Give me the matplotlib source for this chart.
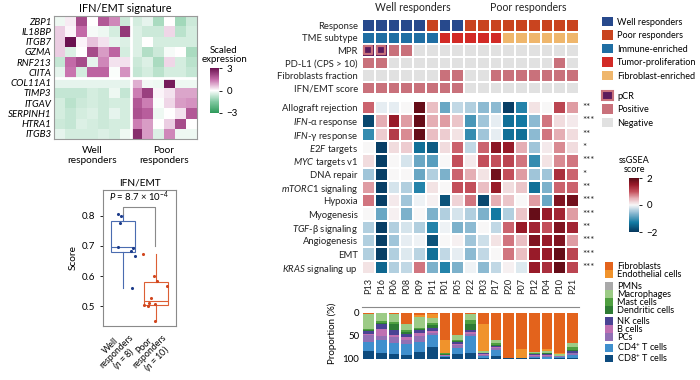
import numpy as np
import matplotlib
matplotlib.use('Agg')
import matplotlib.pyplot as plt
from matplotlib.colors import LinearSegmentedColormap, ListedColormap, BoundaryNorm
from matplotlib.patches import Patch

plt.rcParams['font.family'] = ['Lato', 'DejaVu Sans']
plt.rcParams['mathtext.fontset'] = 'custom'
plt.rcParams['mathtext.rm'] = 'Lato'
plt.rcParams['mathtext.it'] = 'Lato:italic'
plt.rcParams['axes.linewidth'] = 0.8

# ---------------- data ----------------
genes = ['ZBP1', 'IL18BP', 'ITGB7', 'GZMA', 'RNF213', 'CIITA',
         'COL11A1', 'TIMP3', 'ITGAV', 'SERPINH1', 'HTRA1', 'ITGB3']
expr_well = [
    [-0.2, 0.2, 2.0, 0.0, 1.8, 1.2, -0.6],
    [0.5, 0.1, 1.5, -0.1, -0.2, -0.5, 2.3],
    [0.5, 3.0, 0.1, 0.6, 0.3, -0.3, -0.4],
    [0.5, -0.4, 0.0, 2.0, 1.0, 1.6, -0.5],
    [-0.7, 1.5, 2.0, -0.3, 1.2, 0.3, 0.3],
    [-0.3, 1.4, -0.5, 1.6, 1.6, -0.05, 1.1],
    [-0.3, -0.3, -0.3, -0.3, -0.3, -0.3, -0.3],
    [-0.7, -0.7, -0.7, -0.5, -0.6, -0.2, -0.7],
    [-0.5, -0.8, -0.6, -0.5, -0.6, -0.5, -0.5],
    [-0.5, -0.7, -0.5, -0.4, -0.6, -0.3, -0.5],
    [-0.6, -0.7, -0.4, -0.5, -0.6, -0.5, -0.5],
    [-0.3, -0.5, -0.5, -0.5, -0.4, -0.5, -0.2],
]
expr_poor = [
    [-0.5, -0.3, -1.0, 0.0, -1.1, -0.6],
    [-0.4, -0.6, -0.6, 0.4, -0.8, -0.5],
    [-0.4, 0.0, -0.5, -0.5, -0.5, -0.5],
    [-0.4, -0.9, -0.6, -0.1, 0.0, -1.0],
    [-0.6, -0.4, -1.0, 0.4, -0.5, -0.8],
    [-0.7, -0.5, -0.8, -0.5, -0.5, -0.7],
    [0.8, -0.15, -0.2, 2.8, -0.2, -0.2],
    [1.3, 2.2, 0.1, 0.3, 0.9, 0.9],
    [1.8, 1.3, -0.05, 0.4, 1.0, 1.1],
    [1.9, 1.7, -0.2, 0.0, 0.3, 1.8],
    [1.3, 1.0, 0.0, 0.5, 2.0, 0.0],
    [2.5, 1.0, -0.4, 1.2, -0.2, -0.2],
]

score_well = [0.805, 0.80, 0.775, 0.697, 0.693, 0.683, 0.665, 0.56]
score_poor = [0.672, 0.60, 0.585, 0.567, 0.527, 0.51, 0.507, 0.505, 0.50, 0.45]
jitter_well = [-0.13, -0.06, -0.08, -0.13, 0.32, 0.25, 0.37, 0.29]
jitter_poor = [-0.38, -0.06, 0.02, 0.32, -0.16, -0.2, -0.03, -0.36, -0.25, -0.03]

patients = ['P13', 'P16', 'P06', 'P08', 'P09', 'P11', 'P01', 'P05', 'P22',
            'P03', 'P17', 'P20', 'P07', 'P12', 'P04', 'P10', 'P21']

ann_labels = ['Response', 'TME subtype', 'MPR', 'PD-L1 (CPS > 10)',
              'Fibroblasts fraction', 'IFN/EMT score']
response = ['Well'] * 5 + ['Poor'] + ['Well'] * 2 + ['Poor'] * 9
tme = ['Immune'] * 6 + ['Tumor'] * 5 + ['Fibro'] * 6
mpr = ['pCR', 'pCR', 'Positive', 'Positive'] + ['Negative'] * 13
pdl1 = ['Positive'] * 2 + ['Negative'] * 13 + ['Positive', 'Negative']
fib_frac = ['Negative'] * 6 + ['Positive'] * 2 + ['Negative'] * 2 + ['Positive'] * 7
ifn_emt = ['Positive'] * 8 + ['Negative'] * 9

hallmarks = ['Allograft rejection', r'$\it{IFN}$-α response', r'$\it{IFN}$-γ response',
             r'$\it{E2F}$ targets', r'$\it{MYC}$ targets v1', 'DNA repair',
             r'$\it{mTORC1}$ signaling', 'Hypoxia', 'Myogenesis',
             r'$\it{TGF}$-β signaling', 'Angiogenesis', 'EMT', r'$\it{KRAS}$ signaling up']
stars = ['**', '***', '**', '*', '***', '*', '**', '***', '***', '**', '***', '***', '***']
ssgsea = [
    [0.9, -0.1, -0.1, 0.0, 1.9, 0.4, -0.8, -0.3, -0.4, -0.6, -0.6, -1.9, -1.2, 0.15, 0.0, 1.1, 0.6],
    [-1.8, 0.5, 1.5, 0.6, 1.9, 0.5, 0.6, 0.35, -1.0, -0.5, -0.1, -1.4, -1.3, -0.6, 0.8, 0.2, 0.1],
    [-1.1, 0.3, 1.2, 0.7, 1.9, 0.4, 0.3, 0.15, -1.1, -0.5, -0.1, -1.4, -1.4, -0.6, 0.8, 0.5, 0.2],
    [0.0, -1.9, 0.2, 0.3, -1.4, -1.6, 0.2, 0.9, -0.3, 0.9, 1.6, 1.5, 0.5, -0.5, 0.1, 0.7, 0.2],
    [0.2, -1.9, 0.0, -0.2, -0.8, -0.9, 0.0, 1.0, 0.1, 1.0, 1.0, 1.1, 0.8, -1.1, 0.15, 0.7, 0.8],
    [-0.5, -1.9, 0.0, 0.0, -0.8, -0.4, -0.7, 0.9, 0.5, 0.15, 1.8, 1.0, 0.6, -0.5, -0.5, 1.3, 0.9],
    [0.6, -1.9, -0.2, -0.4, -1.2, 0.15, 0.0, 1.0, 1.0, 0.4, 1.5, 0.2, 0.35, -1.4, -0.7, 0.9, 0.9],
    [0.8, -1.9, 0.1, -0.5, -0.05, 0.05, -1.7, 0.25, 0.8, -1.8, 0.5, 0.35, 0.0, 0.6, -0.8, 1.7, 1.8],
    [0.0, -0.8, 0.05, -0.7, 0.0, -0.7, -0.4, -0.2, -0.4, -0.7, -1.3, -0.4, 0.35, 1.9, 1.5, 1.4, 0.6],
    [-0.4, -1.9, -0.4, -0.2, -0.4, -1.2, -0.05, -0.7, -0.6, 0.0, -0.3, 0.9, 1.5, 1.4, 1.0, 1.7, 1.4],
    [-0.4, -1.9, -0.5, -0.1, -0.05, -1.7, 0.0, 0.05, -0.5, -0.25, 0.15, 0.8, 0.4, 1.7, 1.5, 1.7, 0.6],
    [-0.4, -1.9, -0.4, -0.15, -0.35, -1.4, -0.3, -0.1, -0.6, -0.3, 0.0, 0.8, 0.4, 1.5, 1.5, 1.9, 1.1],
    [0.15, -1.5, -0.4, -0.3, 0.8, -0.7, -1.2, -0.7, -0.05, -0.6, -0.3, 0.05, -0.15, 1.5, 1.3, 1.9, 1.1],
]

cell_types = ['Fibroblasts', 'Endothelial cells', 'PMNs', 'Macrophages', 'Mast cells',
              'Dendritic cells', 'NK cells', 'B cells', 'PCs',
              'CD4$^{+}$ T cells', 'CD8$^{+}$ T cells']
fibroblasts = [2, 0, 3, 25, 4, 3, 58, 48, 2, 25, 58, 97, 78, 84, 78, 86, 65]
endothelial = [0, 0, 0, 0, 5, 8, 28, 0, 0, 58, 0, 1, 20, 0, 5, 4, 0]
pmns = [0] * 17
macrophages = [32, 18, 17, 11, 24, 11, 2, 10, 13, 3, 7, 0, 0, 3, 3, 3, 10]
mast = [2, 3, 5, 5, 2, 5, 2, 3, 10, 1, 4, 0, 0, 2, 2, 1, 5]
dendritic = [3, 4, 13, 5, 3, 6, 1, 3, 11, 1, 3, 0, 0, 1, 2, 0, 3]
nk = [6, 10, 9, 7, 6, 7, 1, 3, 6, 2, 3, 0, 0, 1, 2, 0, 3]
bcells = [3, 15, 5, 5, 7, 3, 1, 3, 3, 1, 2, 0, 0, 2, 2, 0, 1]
pcs = [14, 8, 13, 10, 11, 4, 1, 6, 5, 2, 4, 0, 0, 2, 2, 1, 4]
cd4 = [21, 29, 25, 24, 22, 26, 2, 14, 37, 4, 12, 0, 0, 3, 3, 3, 6]
cd8 = [17, 13, 10, 8, 16, 27, 4, 10, 13, 3, 7, 2, 2, 2, 1, 2, 3]
proportions = [fibroblasts, endothelial, pmns, macrophages, mast, dendritic,
               nk, bcells, pcs, cd4, cd8]
cell_colors = ['#e3631c', '#f0932c', '#a9a9a9', '#9ccb86', '#4f9f40', '#2e7b34',
               '#4a4394', '#bf70b2', '#9170b4', '#3f8fcd', '#0d4b7e']

# ---------------- styles ----------------
cmap_expr = LinearSegmentedColormap.from_list(
    'expr', [(0, '#2e9a5a'), (0.25, '#80c9a1'), (0.5, '#ffffff'),
             (0.75, '#c46aa8'), (1, '#6b1150')])
cmap_gsea = LinearSegmentedColormap.from_list(
    'gsea', [(0, '#06365c'), (0.175, '#137aa3'), (0.35, '#8dbad2'), (0.5, '#f8f8f8'),
             (0.625, '#e6b0b6'), (0.75, '#c4505c'), (0.875, '#9a1b2a'), (1, '#5a0a14')])
ann_keys = ['Well', 'Poor', 'Immune', 'Tumor', 'Fibro', 'pCR', 'Positive', 'Negative']
ann_cols = ['#27498c', '#c9441f', '#1f6ea3', '#d22a26', '#efb66c', '#5d1b5c', '#c9717b', '#e1e1e1']
ann_names = ['Well responders', 'Poor responders', 'Immune-enriched', 'Tumor-proliferation',
             'Fibroblast-enriched', 'pCR', 'Positive', 'Negative']
TXT = '#222222'
FS = 6.8

W, H = 700, 380
fig = plt.figure(figsize=(7, 3.8), dpi=100)


def px_axes(l, t, w, h):
    return fig.add_axes([l / W, 1 - (t + h) / H, w / W, h / H])


# ---------------- left heatmap ----------------
ax = px_axes(54, 16, 143, 123)
expr = np.hstack([np.array(expr_well), np.array(expr_poor)])
ax.pcolormesh(expr, cmap=cmap_expr, vmin=-3, vmax=3)
ax.set_ylim(len(genes), 0)
ax.axvline(len(expr_well[0]), color='white', lw=2)
ax.axhline(6, color='white', lw=2)
ax.set_yticks(np.arange(len(genes)) + 0.5, genes, style='italic', fontsize=7)
ax.set_xticks([len(expr_well[0]) / 2, len(expr_well[0]) + len(expr_poor[0]) / 2],
              ['Well\nresponders', 'Poor\nresponders'], fontsize=7.3)
ax.tick_params(length=0, pad=2)
ax.tick_params(axis='x', pad=5)
for s in ax.spines.values():
    s.set_color('#9a9a9a')
ax.set_title('IFN/EMT signature', fontsize=7.8, pad=3)

cax = px_axes(210, 68, 9, 45)
cb = fig.colorbar(plt.cm.ScalarMappable(cmap=cmap_expr, norm=plt.Normalize(-3, 3)),
                  cax=cax, ticks=[-3, 0, 3])
cb.outline.set_visible(False)
cb.ax.tick_params(labelsize=7, length=2, width=0.6)
cb.ax.set_yticklabels(['−3', '0', '3'])
fig.text(224 / W, 1 - 55 / H, 'Scaled\nexpression', ha='center', va='center',
         fontsize=7, linespacing=1.1)

# ---------------- boxplot ----------------
ax = px_axes(103, 190, 73, 136)
bp = ax.boxplot([score_well, score_poor], positions=[1, 2], widths=0.72,
                showfliers=False, patch_artist=True)
box_cols = ['#4a6cb0', '#dc5f35']
pt_cols = ['#1d3c8a', '#d1461e']
for i in range(2):
    bp['boxes'][i].set(facecolor='none', edgecolor=box_cols[i], lw=0.8)
    bp['medians'][i].set(color=box_cols[i], lw=0.8)
    for w in bp['whiskers'][2 * i:2 * i + 2]:
        w.set(color=box_cols[i], lw=0.8)
    for c in bp['caps'][2 * i:2 * i + 2]:
        c.set_visible(False)
ax.scatter(1 + np.array(jitter_well), score_well, s=5, color=pt_cols[0], zorder=3, lw=0)
ax.scatter(2 + np.array(jitter_poor), score_poor, s=5, color=pt_cols[1], zorder=3, lw=0)
ax.plot([1.02, 1.02, 1.97, 1.97], [0.807, 0.829, 0.829, 0.70], color='#8a8a8a', lw=0.8)
ax.text(1.5, 0.862, r'$P$ = 8.7 × 10$^{−4}$', ha='center', va='center', fontsize=6.8)
ax.set_xlim(0.41, 2.6)
ax.set_ylim(0.435, 0.885)
ax.set_yticks([0.5, 0.6, 0.7, 0.8])
ax.tick_params(axis='y', labelsize=7, length=2, width=0.6)
ax.set_xticks([1, 2], ['Well\nresponders\n($n$ = 8)', 'Poor\nresponders\n($n$ = 10)'])
for lab in ax.get_xticklabels():
    lab.set(rotation=45, ha='right', va='top', rotation_mode='anchor', fontsize=6.4,
            linespacing=0.88, multialignment='center')
ax.tick_params(axis='x', length=0, pad=1)
for s in ax.spines.values():
    s.set_color('#8a8a8a')
ax.set_ylabel('Score', fontsize=7.3, labelpad=3)
ax.set_title('IFN/EMT', fontsize=7.3, pad=3)

# ---------------- annotation rows ----------------
n = len(patients)
edges_x = np.arange(n + 1) - 0.5
ax = px_axes(362, 19, 217, 75)
rows = [response, tme, mpr, pdl1, fib_frac, ifn_emt]
codes = np.array([[ann_keys.index(v) for v in r] for r in rows])
ann_cmap = ListedColormap(ann_cols)
ax.pcolormesh(edges_x, np.arange(len(rows) + 1), codes, cmap=ann_cmap,
              norm=BoundaryNorm(np.arange(len(ann_keys) + 1) - 0.5, len(ann_keys)),
              edgecolors='white', linewidth=1.3)
pcr_x = [i for i, v in enumerate(mpr) if v == 'pCR']
ax.scatter(pcr_x, [ann_labels.index('MPR') + 0.5] * len(pcr_x), marker='s', s=40,
           facecolor=ann_cols[5], edgecolor=ann_cols[6], lw=1.6, zorder=3)
ax.set_ylim(len(rows), 0)
ax.set_xlim(-0.5, n - 0.5)
ax.set_yticks(np.arange(len(rows)) + 0.5, ann_labels, fontsize=FS, color=TXT)
ax.set_xticks([])
ax.tick_params(length=0, pad=3)
for s in ax.spines.values():
    s.set_visible(False)
ax.text(3.5, -0.45, 'Well responders', ha='center', va='bottom', fontsize=7.6, color=TXT)
ax.text(12.5, -0.45, 'Poor responders', ha='center', va='bottom', fontsize=7.6, color=TXT)

# ---------------- hallmark heatmap ----------------
ax = px_axes(362, 101, 217, 173)
ax.pcolormesh(edges_x, np.arange(len(hallmarks) + 1), np.array(ssgsea), cmap=cmap_gsea,
              vmin=-2, vmax=2, edgecolors='white', linewidth=1.3)
ax.set_ylim(len(hallmarks), 0)
ax.set_xlim(-0.5, n - 0.5)
ax.set_yticks(np.arange(len(hallmarks)) + 0.5, hallmarks, fontsize=FS, color=TXT)
ax.set_xticks(np.arange(n), patients, rotation=90, fontsize=6.6, color=TXT)
ax.tick_params(length=0, pad=3)
for s in ax.spines.values():
    s.set_visible(False)
for i, st in enumerate(stars):
    ax.text(n - 0.5 + 0.25, i + 0.5, st, ha='left', va='center', fontsize=7, color=TXT)

cax = px_axes(629, 178, 10, 54)
cb = fig.colorbar(plt.cm.ScalarMappable(cmap=cmap_gsea, norm=plt.Normalize(-2, 2)),
                  cax=cax, ticks=[-2, 0, 2])
cb.outline.set_visible(False)
cb.ax.tick_params(labelsize=7, length=2, width=0.6)
cb.ax.set_yticklabels(['−2', '0', '2'])
cb.ax.set_title('ssGSEA\nscore', fontsize=6.6, linespacing=1.1, pad=4)

# ---------------- stacked bars ----------------
ax = px_axes(362, 307, 217, 52)
bottom = np.zeros(n)
for vals, col in zip(proportions, cell_colors):
    ax.bar(np.arange(n), vals, bottom=bottom, width=0.84, color=col, lw=0)
    bottom += np.array(vals)
ax.set_xlim(-0.5, n - 0.5)
ax.set_ylim(100, -13)
ax.set_yticks([0, 50, 100])
ax.set_xticks([])
ax.tick_params(axis='y', labelsize=7, length=0, pad=2)
for k in ['left', 'right', 'bottom']:
    ax.spines[k].set_visible(False)
ax.spines['top'].set_color('#8a8a8a')
ax.set_ylabel('Proportion (%)', fontsize=7, labelpad=4)


# ---------------- legends ----------------
def add_legend(handles, names, top, x, spacing, hh=1.2):
    fig.legend(handles, names, loc='upper left', bbox_to_anchor=(x / W, 1 - top / H),
               frameon=False, fontsize=6.6, handlelength=hh, handleheight=hh,
               handletextpad=0.45, labelspacing=spacing, borderpad=0, borderaxespad=0)


def patches(cols):
    return [Patch(facecolor=c, edgecolor='none') for c in cols]


add_legend(patches(ann_cols[:5]), ann_names[:5], 17, 602, 0.4)
mpr_handles = [Patch(facecolor=ann_cols[5], edgecolor=ann_cols[6], lw=1.5)] + patches(ann_cols[6:])
add_legend(mpr_handles, ann_names[5:], 91, 602, 0.4)
add_legend(patches(cell_colors[:2]), cell_types[:2], 262, 605, -0.1, 0.9)
add_legend(patches(cell_colors[2:6]), cell_types[2:6], 282, 605, -0.1, 0.9)
add_legend(patches(cell_colors[6:]), cell_types[6:], 317, 605, -0.1, 0.9)

fig.savefig('out.png', dpi=100)
